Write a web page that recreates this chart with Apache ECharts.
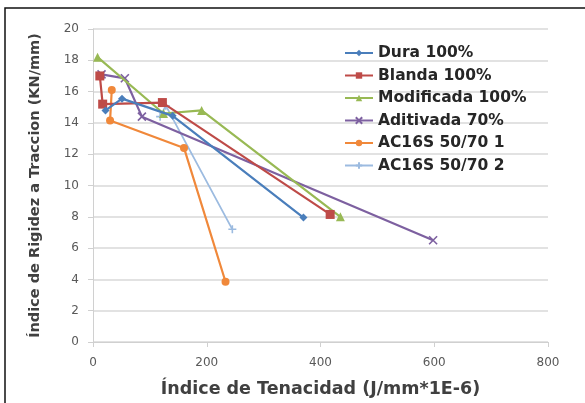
<!DOCTYPE html>
<html><head><meta charset="utf-8">
<script src="https://cdn.jsdelivr.net/npm/echarts@6/dist/echarts.min.js"></script>
<style>html,body{margin:0;padding:0;background:#fff}#c{width:585px;height:403px}</style>
</head><body><div id="c"></div>
<script>
const seriesNames = ['Dura 100%','Blanda 100%','Modificada 100%','Aditivada 70%','AC16S 50/70 1','AC16S 50/70 2'];
const dura = [[22,14.8],[51,15.55],[140,14.45],[370,7.95]];
const blanda = [[12,17.0],[17,15.2],[122,15.3],[417,8.15]];
const modificada = [[8,18.2],[124,14.6],[191,14.8],[435,8.0]];
const aditivada = [[15,17.1],[56,16.85],[86,14.4],[598,6.5]];
const ac1 = [[33,16.1],[30,14.15],[160,12.4],[233,3.85]];
const ac2 = [[118,14.4],[128,15.1],[245,7.2]];
const xTicks = [0,200,400,600,800];
const yTicks = [0,2,4,6,8,10,12,14,16,18,20];

const colors = ['#4a7ebb','#be4b48','#98b954','#7d60a0','#f0883a','#9cbbe0'];
const symbols = ['diamond','rect','triangle','path://M0,0L10,10M10,0L0,10','circle','path://M5,0L5,10M0,5L10,5'];
const sizes = [8,9,9,8,8,8];
const datas = [dura,blanda,modificada,aditivada,ac1,ac2];

const chart = echarts.init(document.getElementById('c'));
chart.setOption({
  animation:false,
  color: colors,
  graphic:[{type:'rect',shape:{x:5,y:8,width:700,height:500},style:{fill:'none',stroke:'#111',lineWidth:1.5},silent:true}],
  grid:{left:93,right:37,top:29,bottom:59},
  legend:{
    orient:'vertical', left:339, top:40, itemGap:6.5, itemWidth:28, itemHeight:8,
    textStyle:{fontFamily:'DejaVu Sans',fontWeight:'bold',fontSize:15.5,color:'#262626'},
    data:seriesNames
  },
  xAxis:{type:'value',min:xTicks[0],max:xTicks[xTicks.length-1],interval:200,
    name:'Índice de Tenacidad (J/mm*1E-6)',nameLocation:'middle',nameGap:38,
    nameTextStyle:{fontFamily:'DejaVu Sans',fontWeight:'bold',fontSize:17.5,color:'#404040'},
    axisLine:{lineStyle:{color:'#d0d0d0',width:1}},
    axisTick:{show:true,length:5,lineStyle:{color:'#d0d0d0'}},
    axisLabel:{fontFamily:'DejaVu Sans',fontSize:12,color:'#595959',margin:15},
    splitLine:{show:false}},
  yAxis:{type:'value',min:yTicks[0],max:yTicks[yTicks.length-1],interval:2,
    name:'Índice de Rigidez a Traccion (KN/mm)',nameLocation:'middle',nameGap:50,
    nameTextStyle:{fontFamily:'DejaVu Sans',fontWeight:'bold',fontSize:14.5,color:'#404040'},
    axisLine:{show:true,lineStyle:{color:'#d0d0d0',width:1}},
    axisTick:{show:true,length:5,lineStyle:{color:'#d0d0d0'}},
    axisLabel:{fontFamily:'DejaVu Sans',fontSize:12,color:'#595959',margin:14},
    splitLine:{show:true,lineStyle:{color:'#d9d9d9',width:1.5}}},
  series: seriesNames.map((n,i)=>({
    name:n,type:'line',data:datas[i],symbol:symbols[i],symbolSize:sizes[i],
    showAllSymbol:true,
    lineStyle:{width: i===5?1.8:2.2,color:colors[i]},
    itemStyle:{color:colors[i],borderColor:colors[i],borderWidth:(i===3||i===5)?1.6:0},
    z: 10-i
  }))
});
</script></body></html>
